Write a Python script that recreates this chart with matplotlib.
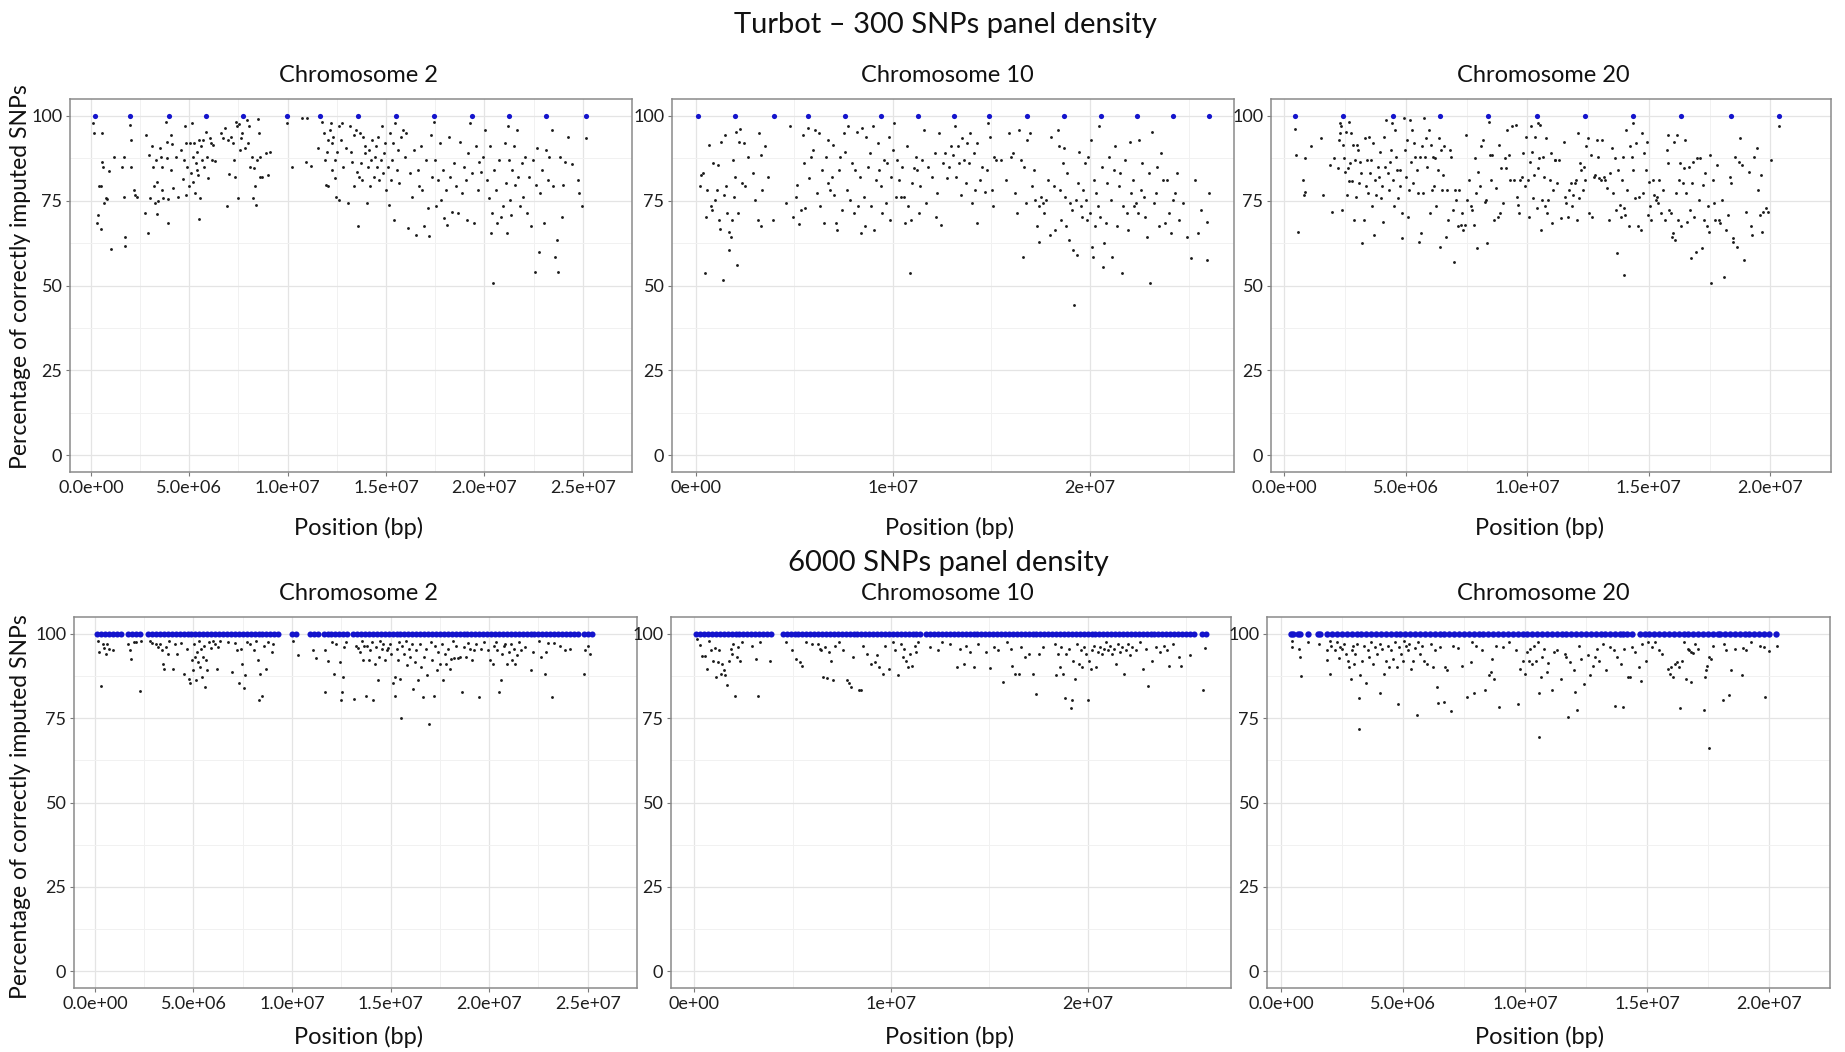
import matplotlib
matplotlib.use("Agg")
import matplotlib.pyplot as plt
import numpy as np

plt.rcParams['font.family'] = ['Lato', 'DejaVu Sans']

# ---------------------------------------------------------------
# data: (position in Mb, % correctly imputed)
# ---------------------------------------------------------------

# 300 SNPs panel - chromosome 2
chr2_300_black = [
    (0.1, 97.8), (0.15, 94.9), (0.3, 68.3), (0.35, 70.8), (0.4, 79.4), (0.5, 79.4), (0.5, 66.6),
    (0.55, 86.4), (0.55, 94.9), (0.6, 84.8), (0.65, 74.2), (0.75, 75.8), (0.84, 75.4), (0.92, 83.9),
    (1.04, 60.8), (1.2, 88), (1.66, 88), (1.72, 61.7), (1.74, 64.4), (1.6, 84.8), (1.7, 76),
    (2.0, 97.3), (2.06, 92.9), (2.04, 84.9), (2.2, 78.2), (2.26, 76.7), (2.34, 76.2),
    (2.73, 71.5), (2.79, 94.4), (2.9, 65.6), (2.97, 88.5), (3.03, 75.7), (3.11, 91), (3.17, 85),
    (3.23, 79.4), (3.27, 74.4), (3.31, 86.9), (3.37, 80.6), (3.41, 75), (3.37, 71.1), (3.51, 90.5),
    (3.55, 87.8), (3.59, 84.9), (3.61, 78.2), (3.65, 75.7), (3.81, 98.3), (3.85, 92.4), (3.89, 87.7),
    (3.93, 75.4), (3.93, 68.3), (4.05, 94.4), (4.09, 84.1), (4.13, 91.7), (4.17, 78.7), (4.31, 88),
    (4.45, 76.2), (4.57, 90), (4.67, 81.3), (4.71, 87), (4.77, 96.9), (4.81, 91.9), (4.85, 76.7),
    (4.91, 85), (4.97, 79.2), (5.05, 91.9), (5.09, 83.1), (5.13, 98), (5.17, 80.6), (5.21, 88),
    (5.25, 91.9), (5.29, 77.2), (5.33, 86), (5.37, 84.1), (5.41, 89.5), (5.45, 82.6), (5.49, 92.9),
    (5.49, 69.5), (5.53, 75.7), (5.61, 91), (5.65, 87), (5.71, 92.9), (5.77, 85), (5.85, 95.4),
    (5.91, 88), (5.97, 81.6), (6.03, 93.4), (6.11, 91.9), (6.17, 87), (6.23, 91.4), (6.32, 86.8),
    (6.62, 94.9), (6.74, 93.4), (6.82, 96.4), (6.92, 73.3), (6.98, 92.9), (7.04, 82.9), (7.12, 93.9),
    (7.22, 91.9), (7.26, 87), (7.32, 82.1), (7.38, 98.3), (7.42, 96.9), (7.48, 75.7), (7.52, 97.6),
    (7.58, 90), (7.62, 93.4), (7.68, 94.9), (7.82, 90.5), (7.92, 98.8), (7.98, 91.9), (8.02, 96.9),
    (8.08, 85), (8.18, 88), (8.22, 75.7), (8.28, 84.6), (8.32, 79.2), (8.38, 73.7), (8.42, 87),
    (8.48, 99), (8.52, 94.9), (8.58, 88), (8.62, 82.1), (8.68, 82.1), (8.92, 89.2), (9.02, 82.6),
    (9.12, 89.5), (9.98, 97.8), (10.22, 85), (10.75, 99.3), (10.99, 99.3), (10.95, 86.5),
    (11.19, 85.3), (11.53, 90.5), (11.73, 98.3), (11.83, 94.9), (11.89, 87), (11.93, 79.6),
    (11.99, 89.5), (12.03, 92.9), (12.07, 79.2), (12.13, 95.9), (12.19, 97.8), (12.23, 91.9),
    (12.27, 84.1), (12.33, 93.9), (12.39, 87), (12.43, 81.6), (12.47, 76.2), (12.53, 89.5),
    (12.59, 75.2), (12.63, 96.9), (12.69, 92.9), (12.75, 97.8), (12.83, 85), (12.99, 90.5),
    (13.09, 74.2), (13.15, 96.9), (13.23, 89.5), (13.29, 86.5), (13.35, 79.2), (13.39, 94.4),
    (13.47, 95.9), (13.53, 83.6), (13.59, 67.4), (13.63, 82.1), (13.67, 94.9), (13.73, 86),
    (13.79, 81.1), (13.85, 93.9), (13.91, 89), (13.95, 91), (14.01, 74.2), (14.07, 85), (14.13, 90),
    (14.19, 79.2), (14.25, 87), (14.31, 92.9), (14.37, 82.1), (14.43, 88), (14.49, 91), (14.55, 85),
    (14.6, 93.9), (14.66, 81.1), (14.72, 87), (14.78, 96.9), (14.84, 83.1), (14.9, 89), (14.96, 91.9),
    (15.02, 78.2), (15.08, 85), (15.14, 73.7), (15.2, 94.9), (15.24, 81.1), (15.3, 87), (15.36, 91.9),
    (15.42, 69.3), (15.48, 97.8), (15.54, 84.1), (15.6, 90), (15.68, 80.1), (15.74, 93.9),
    (15.84, 95.9), (15.94, 88), (16.04, 94.9), (16.14, 66.9), (16.24, 83.1), (16.34, 76.2),
    (16.44, 90), (16.54, 64.9), (16.6, 84.1), (16.68, 79.2), (16.76, 91), (16.84, 78.2), (16.94, 67.4),
    (17.04, 87), (17.14, 72.8), (17.2, 64.6), (17.28, 94.4), (17.36, 82.1), (17.44, 98.3),
    (17.5, 87), (17.56, 73.3), (17.64, 81.1), (17.72, 91.9), (17.8, 75.2), (17.88, 84.1),
    (17.96, 69.8), (18.04, 78.2), (18.1, 67.8), (18.18, 93.9), (18.24, 82.1), (18.34, 71.8),
    (18.44, 86), (18.54, 79.2), (18.64, 71.3), (18.74, 92.4), (18.84, 77.2), (18.94, 85),
    (19.05, 81.1), (19.11, 69.3), (19.19, 89), (19.29, 97.8), (19.37, 83.1), (19.45, 68.3),
    (19.55, 91), (19.65, 78.2), (19.75, 86.5), (19.85, 83.6), (19.95, 88), (20.05, 95.9),
    (20.15, 81.1), (20.25, 75.7), (20.29, 91), (20.35, 65.4), (20.41, 71.3), (20.45, 50.6),
    (20.51, 84.1), (20.57, 78.2), (20.65, 68.3), (20.75, 87), (20.85, 70.3), (20.95, 73.3),
    (21.05, 91.9), (21.11, 80.1), (21.17, 65.4), (21.21, 96.9), (21.25, 87), (21.31, 75.2),
    (21.37, 70.8), (21.41, 84.1), (21.49, 91), (21.57, 79.6), (21.65, 95.9), (21.73, 82.1),
    (21.81, 73.3), (21.89, 86), (21.97, 76.2), (22.05, 88), (22.15, 71.3), (22.25, 82.1),
    (22.35, 67.4), (22.45, 87), (22.55, 54.1), (22.61, 79.6), (22.69, 90.5), (22.77, 60),
    (22.85, 77.2), (22.95, 84.1), (23.05, 68.3), (23.15, 90), (23.21, 81.1), (23.29, 88),
    (23.41, 95.9), (23.49, 79.2), (23.61, 58.5), (23.69, 63.4), (23.75, 54.1), (23.85, 88),
    (23.95, 70.3), (24.01, 79.6), (24.09, 86.5), (24.25, 93.9), (24.45, 85.8), (24.76, 81.1),
    (24.82, 77.2), (24.96, 73.3), (25.14, 93.4),
]
chr2_300_blue = [0.2, 2.0, 3.95, 5.87, 7.74, 9.98, 11.65, 13.59, 15.52, 17.44, 19.35, 21.27, 23.15, 25.14]

# 300 SNPs panel - chromosome 10
chr10_300_black = [
    (0.2, 79.4), (0.26, 82.6), (0.36, 83.1), (0.46, 53.8), (0.5, 70.1), (0.6, 78.2), (0.7, 91.4),
    (0.76, 73.5), (0.82, 72.3), (0.9, 86), (0.98, 75.2), (1.06, 78.2), (1.14, 85.5), (1.18, 69.3),
    (1.22, 66.6), (1.3, 92.4), (1.37, 51.6), (1.43, 76.7), (1.51, 94.4), (1.55, 79.2), (1.61, 71.3),
    (1.67, 65.9), (1.71, 60.5), (1.77, 64.4), (1.83, 69.3), (1.87, 87), (1.95, 76.2), (2.01, 82.1),
    (2.07, 95.4), (2.11, 56), (2.15, 71.3), (2.21, 92.4), (2.27, 96.1), (2.35, 80.1), (2.43, 91.9),
    (2.51, 79.2), (2.63, 88), (2.91, 83.1), (2.99, 75.2), (3.15, 69.3), (3.19, 94.9), (3.29, 88.5),
    (3.32, 67.4), (3.36, 78.2), (3.5, 91), (3.68, 82.1), (3.92, 69.3), (4.6, 74.2), (4.8, 96.9),
    (4.96, 70.3), (5.08, 76.2), (5.16, 79.6), (5.23, 68.1), (5.33, 72.3), (5.43, 94.4), (5.49, 86),
    (5.57, 72.8), (5.69, 96.4), (5.77, 81.6), (5.83, 88), (5.93, 90), (6.05, 95.9), (6.13, 77.2),
    (6.23, 94.9), (6.33, 73.3), (6.43, 84.1), (6.53, 68.3), (6.61, 88), (6.69, 80.1), (6.73, 92.9),
    (6.81, 78.2), (6.89, 82.1), (6.97, 91.4), (7.04, 76.7), (7.1, 68.3), (7.18, 66.4), (7.26, 84.1),
    (7.34, 88), (7.42, 72.3), (7.5, 94.9), (7.58, 89.5), (7.66, 78.2), (7.74, 96.9), (7.84, 75.2),
    (7.94, 86), (8.04, 71.3), (8.1, 84.1), (8.18, 95.4), (8.24, 73.3), (8.34, 82.1), (8.4, 65.4),
    (8.46, 96.4), (8.54, 76.2), (8.6, 67.4), (8.66, 93.9), (8.74, 85), (8.82, 89.1), (8.9, 73.3),
    (8.98, 96.9), (9.06, 66.4), (9.15, 81.1), (9.23, 91.9), (9.31, 84.1), (9.39, 79.2), (9.47, 71.3),
    (9.55, 87), (9.63, 74.2), (9.71, 86), (9.79, 93.9), (9.85, 69.3), (9.91, 82.1), (9.99, 90),
    (10.07, 97.8), (10.15, 76.2), (10.23, 87), (10.31, 81.1), (10.39, 76.2), (10.47, 85),
    (10.55, 76.2), (10.63, 68.3), (10.71, 91), (10.79, 73.3), (10.85, 53.6), (10.91, 69.3),
    (10.99, 80.1), (11.08, 84.6), (11.16, 88), (11.24, 84.1), (11.32, 71.3), (11.4, 79.2),
    (11.48, 87), (11.56, 95.9), (11.66, 74.2), (11.76, 85), (11.96, 82.1), (12.12, 89.1),
    (12.2, 70.3), (12.26, 77.2), (12.36, 94.9), (12.42, 67.8), (12.56, 86), (12.66, 89.1),
    (12.76, 81.6), (12.86, 85), (12.96, 91), (13.04, 88.5), (13.13, 96.9), (13.21, 82.1),
    (13.29, 91), (13.37, 86), (13.45, 76.7), (13.53, 93.4), (13.61, 87), (13.69, 80.1),
    (13.77, 91.9), (13.85, 86), (13.93, 94.9), (14.01, 74.2), (14.09, 89.1), (14.17, 78.2),
    (14.25, 91.9), (14.29, 68.3), (14.41, 81.1), (14.53, 85), (14.67, 77.7), (14.77, 84.1),
    (14.85, 97.8), (14.93, 93.9), (15.02, 78.2), (15.08, 73.3), (15.14, 88), (15.22, 87),
    (15.48, 87), (15.74, 81.1), (15.88, 94.9), (15.98, 88), (16.08, 89.1), (16.18, 77.2),
    (16.28, 71.3), (16.38, 95.9), (16.48, 87), (16.58, 58.5), (16.66, 85), (16.74, 74.2),
    (16.78, 92.9), (16.98, 94.9), (17.07, 79.2), (17.15, 84.1), (17.23, 75.2), (17.31, 67.4),
    (17.39, 73.3), (17.43, 62.9), (17.51, 76.2), (17.59, 74.2), (17.69, 71.3), (17.79, 75.2),
    (17.89, 81.1), (17.95, 64.9), (18.03, 93.9), (18.15, 79.2), (18.23, 66.4), (18.35, 95.9),
    (18.43, 91), (18.49, 78.2), (18.55, 69.3), (18.61, 86), (18.67, 90.5), (18.73, 76.2),
    (18.79, 67.4), (18.85, 83.1), (18.91, 63.4), (18.99, 74.2), (19.08, 72.3), (19.16, 60.5),
    (19.2, 44.2), (19.28, 75.2), (19.34, 59), (19.4, 80.1), (19.46, 89.5), (19.52, 73.3),
    (19.6, 70.3), (19.66, 78.2), (19.72, 86), (19.8, 75.2), (19.86, 69.3), (19.92, 88), (20.0, 71.3),
    (20.04, 92.9), (20.1, 61.5), (20.16, 58.5), (20.2, 81.1), (20.26, 67.4), (20.32, 77.2),
    (20.4, 73.3), (20.46, 96.9), (20.52, 70.3), (20.6, 85), (20.66, 55.6), (20.72, 62.4),
    (20.8, 68.3), (20.88, 80.1), (20.96, 88), (21.04, 75.2), (21.12, 58.5), (21.21, 84.1),
    (21.29, 91), (21.37, 67.4), (21.45, 79.2), (21.53, 83.1), (21.61, 53.6), (21.69, 73.3),
    (21.77, 87), (21.85, 71.3), (21.93, 66.4), (22.01, 92.4), (22.09, 77.2), (22.17, 81.1),
    (22.25, 73.3), (22.33, 74.2), (22.41, 71.3), (22.49, 92.9), (22.57, 78.2), (22.65, 86),
    (22.73, 76.2), (22.81, 70.3), (22.89, 64.4), (22.97, 83.1), (23.05, 50.6), (23.13, 95.4),
    (23.22, 74.2), (23.32, 77.2), (23.42, 85), (23.52, 67.4), (23.62, 89.1), (23.72, 81.1),
    (23.82, 68.3), (23.92, 81.1), (24.02, 71.3), (24.12, 65.4), (24.22, 75.2), (24.32, 77.2),
    (24.42, 83.1), (24.52, 69.3), (24.72, 74.2), (24.92, 64.4), (25.13, 58), (25.33, 81.1),
    (25.47, 65.4), (25.63, 72.3), (25.93, 57.5), (25.95, 68.8), (26.03, 77.2),
]
chr10_300_blue = [0.14, 2.01, 3.96, 5.69, 7.56, 9.39, 11.28, 13.09, 14.89, 16.78, 18.69, 20.54,
                  22.39, 24.2, 26.05]

# 300 SNPs panel - chromosome 20
chr20_300_black = [
    (0.44, 96.1), (0.49, 88.5), (0.56, 65.9), (0.75, 81.1), (0.8, 76.7), (0.83, 87.5), (0.86, 77.7),
    (1.08, 91), (1.52, 93.4), (1.57, 76.7), (1.89, 85.5), (1.95, 71.8), (2.04, 87.5), (2.19, 84.6),
    (2.24, 92.9), (2.28, 94.9), (2.31, 97.8), (2.34, 96.9), (2.37, 72.3), (2.41, 91.4), (2.46, 87.5),
    (2.49, 83.6), (2.53, 95.4), (2.58, 76.7), (2.61, 84.6), (2.64, 80.9), (2.68, 98.3), (2.72, 86),
    (2.75, 94.9), (2.8, 80.9), (2.84, 91.4), (2.87, 69.3), (2.92, 87), (2.95, 76.2), (2.98, 91.4),
    (3.02, 90), (3.08, 80.1), (3.12, 86.5), (3.17, 83.1), (3.21, 62.4), (3.26, 69.3), (3.3, 93.4),
    (3.35, 79.2), (3.39, 87), (3.43, 77.2), (3.48, 93.9), (3.52, 83.1), (3.57, 87), (3.61, 73.3),
    (3.66, 91.9), (3.7, 64.9), (3.75, 81.1), (3.79, 76.7), (3.84, 85), (3.88, 82.1), (3.92, 89.5),
    (3.97, 75.7), (4.01, 79.2), (4.06, 68.8), (4.12, 93.9), (4.16, 85), (4.2, 98.8), (4.25, 83.1),
    (4.29, 78.2), (4.34, 86.5), (4.38, 90), (4.43, 97.8), (4.47, 81.1), (4.51, 73.3), (4.56, 95.9),
    (4.6, 88), (4.65, 84.1), (4.69, 75.7), (4.74, 79.2), (4.78, 84.1), (4.83, 71.3), (4.86, 63.9),
    (4.91, 99.3), (4.96, 90), (5.0, 82.1), (5.05, 92.9), (5.09, 70.3), (5.12, 78.2), (5.17, 98.8),
    (5.21, 86.5), (5.26, 95.9), (5.3, 80.1), (5.34, 91.9), (5.39, 88), (5.45, 84.1), (5.49, 77.2),
    (5.54, 62.9), (5.58, 88), (5.63, 65.4), (5.67, 91), (5.71, 77.2), (5.76, 99.3), (5.8, 88),
    (5.85, 93.4), (5.89, 85), (5.95, 95.9), (6.0, 71.3), (6.04, 91.4), (6.08, 78.2), (6.13, 88),
    (6.17, 79.2), (6.22, 87.5), (6.26, 73.3), (6.31, 84.1), (6.35, 93.4), (6.39, 61.5), (6.44, 90),
    (6.48, 78.2), (6.53, 82.6), (6.59, 91), (6.65, 64.4), (6.69, 78.2), (6.75, 69.3), (6.8, 90),
    (6.85, 88), (6.93, 72.3), (6.97, 57), (7.02, 78.2), (7.08, 75.2), (7.14, 67.4), (7.19, 78.2),
    (7.25, 67.8), (7.31, 71.3), (7.37, 66.4), (7.43, 67.8), (7.49, 94.4), (7.52, 75.2), (7.59, 81.1),
    (7.67, 73.3), (7.73, 72.3), (7.79, 67.8), (7.85, 87.5), (7.89, 77.2), (7.93, 61), (7.99, 83.6),
    (8.04, 79.2), (8.11, 91), (8.19, 92.9), (8.26, 74.7), (8.31, 75.2), (8.36, 62.4), (8.41, 98.3),
    (8.45, 88.5), (8.51, 81.1), (8.56, 88.5), (8.63, 69.3), (8.7, 78.7), (8.78, 70.3), (8.82, 91.4),
    (8.88, 71.3), (8.93, 84.6), (9.0, 74.2), (9.07, 87.5), (9.12, 84.6), (9.18, 95.9), (9.24, 88.5),
    (9.3, 81.1), (9.36, 96.9), (9.44, 81.1), (9.52, 97.3), (9.56, 76.2), (9.62, 73.7), (9.67, 71.3),
    (9.71, 81.1), (9.77, 82.1), (9.83, 89), (9.89, 79.2), (9.95, 93.9), (10.01, 81.1), (10.05, 70.3),
    (10.11, 86.5), (10.16, 96.9), (10.2, 89.5), (10.24, 75.7), (10.29, 82.6), (10.33, 93.9),
    (10.38, 72.8), (10.42, 97.8), (10.45, 84.6), (10.5, 87.5), (10.54, 97.3), (10.57, 66.4),
    (10.6, 75.2), (10.64, 88), (10.69, 82.1), (10.72, 73.3), (10.78, 93.4), (10.82, 71.3),
    (10.87, 75.2), (10.93, 81.1), (10.97, 89), (11.01, 68.3), (11.07, 78.2), (11.12, 87),
    (11.16, 87), (11.22, 80.1), (11.3, 87), (11.4, 69.8), (11.49, 92.4), (11.55, 76.2), (11.61, 74.2),
    (11.67, 70.3), (11.72, 78.2), (11.78, 80.1), (11.84, 73.3), (11.89, 76.7), (11.96, 80.1),
    (12.01, 81.1), (12.05, 69.3), (12.09, 94.9), (12.14, 75.7), (12.18, 86), (12.23, 84.1),
    (12.29, 78.2), (12.35, 85), (12.39, 81.1), (12.43, 91), (12.49, 93.4), (12.55, 71.3),
    (12.61, 88.5), (12.67, 70.3), (12.73, 82.1), (12.79, 82.6), (12.85, 92.9), (12.91, 88),
    (12.97, 81.6), (13.03, 81.1), (13.09, 92.9), (13.15, 82.1), (13.2, 81.1), (13.29, 78.7),
    (13.37, 69.3), (13.41, 83.1), (13.47, 90.5), (13.53, 77.2), (13.59, 87.5), (13.65, 72.3),
    (13.71, 59.5), (13.75, 84.1), (13.8, 73.7), (13.86, 70.3), (13.89, 81.1), (13.93, 88),
    (13.97, 53.1), (14.0, 72.8), (14.03, 70.8), (14.08, 95.9), (14.12, 78.2), (14.18, 67.4),
    (14.24, 91), (14.29, 88), (14.33, 84.1), (14.37, 97.8), (14.42, 75.7), (14.48, 91.9),
    (14.54, 67.4), (14.6, 76.2), (14.66, 66.4), (14.71, 94.9), (14.77, 77.2), (14.82, 89),
    (14.88, 84.1), (14.92, 92.4), (14.95, 70.8), (15.01, 80.6), (15.07, 73.3), (15.11, 69.3),
    (15.16, 81.1), (15.22, 76.7), (15.28, 75.2), (15.34, 76.2), (15.38, 74.2), (15.44, 81.1),
    (15.51, 71.3), (15.57, 78.2), (15.66, 69.3), (15.74, 90), (15.78, 86), (15.81, 94.4),
    (15.85, 72.3), (15.9, 71.3), (15.96, 64.4), (16.0, 65.4), (16.05, 92.4), (16.08, 63.4),
    (16.12, 77.2), (16.17, 94.4), (16.21, 69.3), (16.25, 81.1), (16.3, 86), (16.34, 67.4),
    (16.4, 80.1), (16.45, 84.6), (16.49, 92.9), (16.54, 77.2), (16.58, 68.8), (16.64, 85),
    (16.68, 72.3), (16.73, 58), (16.77, 80.1), (16.81, 86.5), (16.87, 70.3), (16.93, 60),
    (16.99, 87.5), (17.05, 75.2), (17.11, 87.5), (17.17, 61), (17.23, 79.6), (17.29, 69.3),
    (17.33, 83.1), (17.38, 67.4), (17.44, 73.3), (17.48, 65.9), (17.53, 88.5), (17.57, 50.6),
    (17.63, 81.1), (17.67, 74.2), (17.73, 69.3), (17.81, 85.5), (17.88, 69.3), (17.95, 68.3),
    (18.02, 75.2), (18.1, 52.6), (18.17, 66.4), (18.27, 70.8), (18.33, 82.1), (18.37, 80.1),
    (18.45, 63.9), (18.47, 62.9), (18.55, 88), (18.62, 61.5), (18.71, 86.5), (18.77, 93.4),
    (18.84, 85.5), (18.92, 57.5), (18.99, 71.8), (19.14, 83.6), (19.22, 67.4), (19.26, 64.9),
    (19.32, 88), (19.47, 90.5), (19.51, 78.2), (19.57, 70.8), (19.62, 82.6), (19.66, 65.9),
    (19.69, 71.8), (19.84, 72.8), (19.92, 71.8), (20.03, 87), (20.36, 96.9),
]
chr20_300_blue = [0.44, 2.43, 4.47, 6.4, 8.39, 10.41, 12.38, 14.37, 16.34, 18.37, 20.36]

# 6000 SNPs panel - chromosome 2
chr2_6000_black = [
    (0.16, 98), (0.2, 94.6), (0.3, 84.6), (0.4, 97), (0.46, 95.9), (0.54, 94.1), (0.62, 97),
    (0.7, 95.6), (0.9, 95.3), (1.69, 97), (1.77, 95.1), (1.81, 92.4), (1.99, 97.5), (2.09, 97.5),
    (2.29, 83), (2.33, 98), (2.79, 98), (2.89, 97.2), (3.09, 97), (3.19, 96), (3.29, 97), (3.39, 95.1),
    (3.45, 91.2), (3.49, 89.7), (3.59, 96), (3.69, 94.1), (3.78, 98), (3.98, 89.7), (4.08, 97),
    (4.18, 93.9), (4.38, 97.2), (4.54, 88.2), (4.68, 95.6), (4.76, 86.7), (4.84, 85.4), (4.92, 92.3),
    (5.0, 89.2), (5.04, 97), (5.08, 93.1), (5.12, 86.2), (5.18, 94.6), (5.24, 91.6), (5.28, 98),
    (5.34, 90.2), (5.38, 95.6), (5.44, 87.2), (5.48, 93.1), (5.52, 96.5), (5.58, 84.3), (5.64, 92.3),
    (5.68, 89.2), (5.78, 97.5), (5.88, 95.9), (5.98, 98), (6.08, 97), (6.18, 89.7), (6.27, 96),
    (6.37, 98), (6.77, 97.5), (6.97, 88.7), (7.11, 97.2), (7.23, 95.3), (7.33, 85.3), (7.39, 95.6),
    (7.47, 91.2), (7.55, 84), (7.63, 87.7), (7.71, 97.5), (7.87, 97), (8.07, 95.1), (8.17, 98),
    (8.27, 92.3), (8.31, 80.3), (8.39, 88.2), (8.47, 81.7), (8.57, 96.5), (8.67, 89.7), (8.76, 97.5),
    (8.96, 94.6), (9.06, 97), (10.06, 98), (10.3, 93.8), (11.06, 95.1), (11.22, 92.9), (11.65, 95.3),
    (11.69, 82.8), (11.81, 92.1), (12.05, 97.5), (12.15, 88.2), (12.25, 97), (12.41, 91.6),
    (12.49, 80.3), (12.53, 82.8), (12.57, 87.2), (12.65, 96), (12.75, 97.5), (13.15, 80.8),
    (13.25, 96.5), (13.35, 95.9), (13.45, 94.6), (13.55, 98), (13.61, 92.3), (13.65, 96.3),
    (13.73, 81.7), (13.81, 96.5), (13.89, 92.3), (13.96, 95.3), (14.04, 97.5), (14.12, 80.3),
    (14.2, 91.2), (14.28, 96), (14.34, 86.2), (14.4, 93.1), (14.48, 98), (14.56, 95.6), (14.64, 97),
    (14.72, 92.3), (14.8, 95.1), (14.88, 95.9), (14.96, 97), (15.04, 94.1), (15.12, 85.3),
    (15.2, 81.7), (15.24, 87.2), (15.3, 95.6), (15.36, 92.3), (15.44, 97.5), (15.48, 86.7),
    (15.54, 75.2), (15.6, 96.5), (15.68, 94.1), (15.76, 98), (15.84, 90.8), (15.92, 95.6),
    (16.0, 93.1), (16.08, 97), (16.16, 83.8), (16.24, 91.6), (16.31, 95.1), (16.39, 86.2),
    (16.47, 97), (16.55, 90.2), (16.63, 81.3), (16.71, 93.1), (16.79, 95.6), (16.87, 87.7),
    (16.95, 73.3), (17.03, 97.5), (17.11, 92.3), (17.19, 81.7), (17.27, 96.3), (17.35, 89.2),
    (17.43, 94.6), (17.51, 91.2), (17.59, 97), (17.67, 86.2), (17.75, 94.1), (17.83, 91.2),
    (17.91, 95.6), (17.99, 89.7), (18.07, 92.6), (18.15, 98), (18.23, 92.8), (18.33, 96.5),
    (18.43, 92.8), (18.53, 93.1), (18.63, 82.8), (18.73, 96), (18.82, 93.1), (18.92, 97.2),
    (19.02, 95.6), (19.12, 92.3), (19.22, 95.1), (19.32, 97), (19.46, 81.3), (19.58, 95.6),
    (19.72, 97.5), (19.92, 95.1), (20.02, 92.3), (20.18, 91.2), (20.26, 96.5), (20.34, 97.5),
    (20.42, 95.1), (20.5, 82.8), (20.58, 86.2), (20.66, 94.1), (20.74, 96.5), (20.82, 97),
    (20.92, 91.2), (21.02, 94.6), (21.1, 97), (21.18, 92.3), (21.26, 95.6), (21.33, 91.2),
    (21.41, 93.6), (21.51, 97.5), (21.61, 95.1), (21.81, 96), (22.11, 89.2), (22.21, 94.6),
    (22.51, 98), (22.65, 93.1), (22.81, 88.2), (22.87, 94.6), (22.97, 97.2), (23.17, 81.3),
    (23.31, 97.2), (23.61, 96.5), (23.84, 95.1), (24.1, 95.6), (24.8, 88.2), (24.84, 95.1),
    (25.0, 96.5), (25.12, 93.9),
]
# positions of the 100 % SNPs, in units of 100 kb
chr2_6000_blue = [
    1, 3, 5, 7, 9, 11, 13, 17, 19, 21, 23,
    27, 29, 31, 33, 35, 37, 39, 41, 43, 45, 47, 49, 51, 53, 55, 57, 59, 61, 63, 65, 67, 69, 71, 73,
    75, 77, 79, 81, 83, 85, 87, 89, 91, 93,
    100, 102, 109, 111, 113, 116, 118, 120, 122, 124, 126, 128,
    131, 133, 135, 137, 139, 141, 143, 145, 147, 149, 151, 153, 155, 157, 159, 161, 163, 165, 167,
    169, 171, 173, 175, 177, 179, 181, 183, 185, 187, 189, 191, 193, 195, 197, 199, 201, 203, 205,
    207, 209, 211, 213, 215, 217, 219, 221, 223, 225, 227, 229, 231, 233, 235, 237, 239, 241, 243,
    245, 248, 250, 252,
]

# 6000 SNPs panel - chromosome 10
chr10_6000_black = [
    (0.14, 98.5), (0.3, 96.6), (0.4, 93.3), (0.54, 93.4), (0.64, 89.7), (0.74, 98), (0.84, 95.3),
    (0.94, 92.1), (1.05, 95.9), (1.11, 87.2), (1.19, 91.6), (1.27, 95.1), (1.35, 88.2), (1.43, 91.2),
    (1.51, 89.2), (1.59, 87.7), (1.67, 84.8), (1.75, 92.1), (1.85, 95.6), (1.91, 93.9), (1.99, 97),
    (2.07, 81.5), (2.15, 93.1), (2.25, 96), (2.35, 92.1), (2.45, 97.5), (2.95, 96.3), (3.12, 92.6),
    (3.26, 81.5), (3.36, 97.5), (3.86, 92.1), (4.66, 97.5), (4.96, 95.1), (5.17, 92.6), (5.37, 91.6),
    (5.47, 90.6), (5.67, 97.5), (5.97, 97), (6.27, 97), (6.37, 95.6), (6.47, 95.1), (6.57, 87.2),
    (6.67, 96), (6.77, 87), (6.87, 94.6), (6.97, 92.1), (7.08, 86.2), (7.18, 96.5), (7.38, 97.5),
    (7.58, 95.1), (7.78, 86.2), (7.88, 85.3), (7.98, 84.3), (8.08, 93.1), (8.38, 83.3), (8.48, 83.3),
    (8.58, 96.5), (8.78, 94.1), (8.98, 91.2), (9.19, 91.6), (9.29, 93.6), (9.39, 90.2), (9.59, 88.2),
    (9.69, 96.5), (9.89, 89.7), (10.09, 97.5), (10.19, 95.1), (10.35, 87.7), (10.49, 97),
    (10.59, 93.1), (10.69, 95.6), (10.79, 92.1), (10.89, 90.3), (10.99, 94.1), (11.09, 90.6),
    (11.2, 96.5), (11.3, 94.6), (11.4, 97.5), (12.0, 96), (12.4, 95.1), (12.6, 97.5), (13.01, 97),
    (13.37, 90.2), (13.51, 95.6), (13.71, 91.2), (13.81, 96.3), (14.01, 94.6), (14.21, 90.2),
    (14.41, 97), (14.81, 94.6), (15.02, 90), (15.22, 96), (15.42, 95.1), (15.72, 85.7), (15.92, 97.5),
    (16.12, 95.6), (16.18, 90.6), (16.32, 88.2), (16.52, 88.2), (16.62, 96), (16.82, 93.1),
    (17.02, 94.1), (17.22, 88.2), (17.38, 82.1), (17.52, 94.1), (17.72, 96), (18.33, 97),
    (18.39, 87.7), (18.47, 94.1), (18.59, 90.2), (18.67, 96), (18.75, 88.2), (18.83, 81.1),
    (18.91, 94.1), (19.03, 95.6), (19.14, 77.9), (19.2, 80.5), (19.28, 92.1), (19.36, 86.7),
    (19.44, 97), (19.54, 91.2), (19.64, 95.1), (19.74, 90.2), (19.84, 96), (19.94, 94.1),
    (20.0, 80.4), (20.08, 92.1), (20.16, 89.7), (20.24, 95.1), (20.34, 96.5), (20.44, 90.2),
    (20.54, 94.6), (20.64, 96), (20.74, 94.1), (20.84, 95.6), (20.94, 97.5), (21.05, 95.1),
    (21.15, 96.5), (21.25, 94.1), (21.35, 95.6), (21.45, 91.2), (21.55, 97), (21.65, 94.6),
    (21.75, 96), (21.85, 88.2), (21.95, 95.1), (22.05, 97), (22.15, 93.6), (22.25, 96),
    (22.45, 95.1), (22.65, 97.5), (22.81, 89.7), (22.95, 95.6), (23.09, 84.5), (23.26, 92.1),
    (23.46, 96), (23.66, 94.6), (23.86, 96.5), (24.06, 95.1), (24.16, 90.6), (24.36, 97),
    (24.66, 93.1), (24.76, 90.6), (25.23, 93.6), (25.87, 83.3), (25.97, 95.9),
]
chr10_6000_blue = [
    1, 3, 5, 7, 9, 11, 13, 15, 17, 19, 21, 23, 25, 27, 29, 31, 33, 35, 37, 39,
    45, 47, 49, 51, 53, 55, 57, 59, 61, 63, 65, 67, 69, 71, 73, 75, 77, 79, 81, 83, 85, 87, 89, 91,
    93, 95, 97, 99, 101, 103, 105, 107, 109, 111, 113, 115,
    118, 120, 122, 124, 126, 128, 130, 132, 134, 136, 138, 140, 142, 144, 146, 148, 150, 152, 154,
    156, 158, 160, 162, 164, 166, 168, 170, 172, 174, 176, 178, 180,
    182, 184, 186, 188, 190, 192, 194, 196, 198, 200, 202, 204, 206, 208, 210, 212, 214, 216, 218,
    220, 222, 224, 226, 228, 230, 232, 234, 236, 238, 240, 242, 244, 246, 248, 250, 252, 254,
    258, 260,
]

# 6000 SNPs panel - chromosome 20
chr20_6000_black = [
    (0.44, 96), (0.47, 98), (0.74, 95.6), (0.79, 93.1), (0.81, 87.5), (1.11, 97.5), (1.56, 97),
    (1.88, 92.3), (1.9, 95.1), (2.03, 88.2), (2.03, 98), (2.07, 96.5), (2.22, 95.1), (2.3, 97.5),
    (2.37, 92.8), (2.41, 96), (2.52, 95.6), (2.59, 97), (2.67, 94.1), (2.74, 92.1), (2.81, 90.2),
    (2.86, 86.7), (2.92, 95.1), (2.96, 96.5), (3.01, 91.2), (3.04, 94.1), (3.11, 97), (3.19, 81.1),
    (3.21, 71.7), (3.26, 87.7), (3.33, 92.1), (3.41, 96.5), (3.48, 85.3), (3.56, 95.1), (3.63, 93.1),
    (3.7, 97.5), (3.78, 91.2), (3.85, 96), (3.93, 94.1), (4.04, 82.6), (4.07, 97), (4.15, 95.6),
    (4.22, 88.2), (4.3, 92.1), (4.37, 96.5), (4.44, 90.2), (4.52, 95.1), (4.59, 92.6), (4.67, 97.5),
    (4.74, 90.2), (4.81, 79.2), (4.84, 96), (4.93, 94.1), (4.99, 92.1), (5.04, 98), (5.11, 96.5),
    (5.19, 95.1), (5.26, 97), (5.33, 89.7), (5.41, 92.1), (5.48, 95.9), (5.56, 75.9), (5.63, 97.5),
    (5.7, 94.1), (5.78, 96.5), (5.85, 92.1), (6.0, 91.2), (6.15, 97), (6.22, 90.2), (6.3, 95.1),
    (6.41, 84.3), (6.44, 79.5), (6.52, 96), (6.67, 79.8), (6.74, 90.2), (6.81, 89.2), (6.96, 77.2),
    (7.04, 96.5), (7.26, 95.9), (7.41, 90.6), (7.63, 81.3), (7.78, 91.6), (7.85, 97.5), (7.93, 82.6),
    (8.0, 96.5), (8.22, 95.1), (8.37, 83.3), (8.52, 87.7), (8.59, 88.7), (8.67, 92.6), (8.74, 86.7),
    (8.81, 96.5), (8.93, 78.2), (9.11, 96), (9.33, 97.5), (9.63, 95.1), (9.7, 79.2), (9.78, 89.7),
    (9.93, 92.1), (10.0, 88.2), (10.07, 94.6), (10.15, 92.1), (10.22, 95.6), (10.3, 91.2),
    (10.37, 96.5), (10.44, 92.1), (10.52, 97.5), (10.56, 82.5), (10.59, 69.5), (10.67, 87.2),
    (10.71, 93.1), (10.77, 95.6), (10.89, 88.7), (10.96, 91.4), (11.11, 83.3), (11.19, 94.6),
    (11.33, 95.1), (11.48, 86.7), (11.63, 94.1), (11.7, 93.1), (11.78, 75.4), (11.85, 91.6),
    (12.0, 89.2), (12.07, 82.8), (12.15, 77.4), (12.22, 96.5), (12.3, 92.6), (12.44, 85.1),
    (12.59, 93.6), (12.67, 87.7), (12.79, 90.6), (12.89, 93.1), (12.96, 95.6), (13.04, 92.1),
    (13.19, 97), (13.33, 89.2), (13.48, 96), (13.63, 95.1), (13.67, 78.6), (13.78, 93.1),
    (13.93, 91.2), (14.0, 78.4), (14.07, 95.6), (14.22, 87.2), (14.3, 87.2), (14.37, 96),
    (14.52, 94.6), (14.67, 90.2), (14.74, 86), (14.81, 97), (14.96, 92.1), (15.04, 97.5),
    (15.19, 96), (15.33, 97.5), (15.48, 95.1), (15.63, 94.1), (15.85, 89.7), (15.93, 88.2),
    (16.0, 90.2), (16.07, 87.2), (16.15, 91.2), (16.22, 91.6), (16.3, 90.3), (16.37, 77.9),
    (16.44, 92.1), (16.52, 97.5), (16.59, 86.7), (16.67, 95.6), (16.74, 95.3), (16.79, 85.7),
    (16.81, 94.6), (16.89, 94.3), (16.96, 97), (17.11, 95.6), (17.33, 77.4), (17.37, 87.2),
    (17.41, 89.2), (17.48, 90.6), (17.56, 93.1), (17.56, 66.1), (17.63, 92.6), (17.7, 96.5),
    (18.12, 80.5), (18.15, 97), (18.22, 95.1), (18.37, 81.8), (18.44, 89.2), (18.59, 95.6),
    (18.89, 87.7), (18.92, 95.9), (19.04, 95.1), (19.26, 97.5), (19.63, 96.5), (19.78, 96),
    (19.85, 81.3), (20.0, 94.9), (20.34, 96.5),
]
chr20_6000_blue = [
    4, 5, 7, 8, 11, 15, 16,
    19, 21, 23, 25, 27, 29, 31, 33, 35, 37, 39, 41, 43, 45, 47, 49, 51, 53, 55, 57, 59, 61, 63, 65,
    67, 69, 71, 73, 75, 77, 79, 81, 83, 85, 87, 89, 91, 93,
    95, 97, 99, 101, 103, 105, 107, 109, 111, 113, 115, 117, 119, 121, 123, 125, 127, 129, 131, 133,
    135, 137, 139, 140, 142, 144,
    147, 149, 151, 153, 155, 157, 159, 161, 163, 165, 167, 169, 171, 173, 175, 177, 179,
    180, 182, 184, 186, 188, 190, 192, 194, 196, 198, 200, 203,
]

row_titles = ['Turbot \u2013 300 SNPs panel density', '6000 SNPs panel density']
chrom_titles = ['Chromosome 2', 'Chromosome 10', 'Chromosome 20']
y_label = 'Percentage of correctly imputed SNPs'
x_label = 'Position (bp)'
yticks = [0, 25, 50, 75, 100]
ticks_5e6 = [0, 5e6, 1e7, 1.5e7, 2e7, 2.5e7]
labels_5e6 = ['0.0e+00', '5.0e+06', '1.0e+07', '1.5e+07', '2.0e+07', '2.5e+07']
ticks_1e7 = [0, 1e7, 2e7]
labels_1e7 = ['0e+00', '1e+07', '2e+07']

# ---------------------------------------------------------------
# layout (pixel boxes of the panels in the 1845 x 1052 image)
# ---------------------------------------------------------------
W, H = 1845, 1052
BORDER = '#8a8a8a'
BLACK = '#1a1a1a'
BLUE = '#1414cc'
TXT = '#111111'

panels = [
    # black, blue, blue unit, blue size, box (l, t, r, b), xlim, ticks, labels
    (chr2_300_black, chr2_300_blue, 1e6, 14, (70, 99, 632, 472), (-1.06e6, 26.42e6), ticks_5e6, labels_5e6),
    (chr10_300_black, chr10_300_blue, 1e6, 14, (672, 99, 1234, 472), (-1.2e6, 27.3e6), ticks_1e7, labels_1e7),
    (chr20_300_black, chr20_300_blue, 1e6, 14, (1271, 99, 1831, 472), (-0.55e6, 21.35e6), ticks_5e6[:5], labels_5e6[:5]),
    (chr2_6000_black, chr2_6000_blue, 1e5, 19, (74, 617, 637, 988), (-1.06e6, 26.38e6), ticks_5e6, labels_5e6),
    (chr10_6000_black, chr10_6000_blue, 1e5, 19, (671, 617, 1231, 988), (-1.18e6, 27.29e6), ticks_1e7, labels_1e7),
    (chr20_6000_black, chr20_6000_blue, 1e5, 21, (1267, 617, 1830, 988), (-0.57e6, 21.36e6), ticks_5e6[:5], labels_5e6[:5]),
]


def draw_panel(fig, black, blue, unit, bsize, box, xlim, xticks, xlabels):
    l, t, r, b = box
    ax = fig.add_axes([l / W, 1 - b / H, (r - l) / W, (b - t) / H])
    pts = np.array(black)
    ax.scatter(pts[:, 0] * 1e6, pts[:, 1], s=4.2, c=BLACK, linewidths=0, zorder=3)
    bx = np.array(blue) * unit
    ax.scatter(bx, np.full(len(bx), 100.0), s=bsize, c=BLUE, linewidths=0, zorder=4)

    ax.set_xlim(*xlim)
    ax.set_ylim(-5, 105)
    ax.set_xticks(xticks)
    ax.set_xticklabels(xlabels)
    ax.set_yticks(yticks)
    ax.set_yticklabels([str(v) for v in yticks])
    # minor grid half way between the major ticks
    step = xticks[1] - xticks[0]
    ax.set_xticks([x + step / 2 for x in xticks], minor=True)
    ax.set_yticks([12.5, 37.5, 62.5, 87.5], minor=True)
    ax.grid(which='major', color='#e4e4e4', linewidth=0.9, zorder=0)
    ax.grid(which='minor', color='#f1f1f1', linewidth=0.7, zorder=0)
    ax.set_axisbelow(True)
    ax.tick_params(which='minor', length=0)
    ax.tick_params(which='major', length=3, width=0.8, color='#7a7a7a',
                   labelsize=13, labelcolor='#1e1e1e', pad=2.5)
    for sp in ax.spines.values():
        sp.set_color(BORDER)
        sp.set_linewidth(1.1)
    return ax


fig = plt.figure(figsize=(W / 100, H / 100), dpi=100)
fig.patch.set_facecolor('white')

for p in panels:
    draw_panel(fig, *p)

# titles and axis labels
fig.text(945 / W, 1 - 25 / H, row_titles[0], ha='center', va='center', fontsize=21, color=TXT)
fig.text(948 / W, 1 - 563 / H, row_titles[1], ha='center', va='center', fontsize=21, color=TXT)

title_x = [358, 947, 1543]
label_x = [359, 950, 1540]
for i in range(3):
    fig.text(title_x[i] / W, 1 - 75 / H, chrom_titles[i], ha='center', va='center', fontsize=17, color=TXT)
    fig.text(title_x[i] / W, 1 - 594 / H, chrom_titles[i], ha='center', va='center', fontsize=17, color=TXT)
    fig.text(label_x[i] / W, 1 - 528 / H, x_label, ha='center', va='center', fontsize=17, color=TXT)
    fig.text(label_x[i] / W, 1 - 1037 / H, x_label, ha='center', va='center', fontsize=17, color=TXT)

fig.text(21 / W, 1 - 277 / H, y_label, ha='center', va='center', rotation=90, fontsize=16.5, color=TXT)
fig.text(21 / W, 1 - 807 / H, y_label, ha='center', va='center', rotation=90, fontsize=16.5, color=TXT)

fig.savefig('out.png', dpi=100, facecolor='white')
